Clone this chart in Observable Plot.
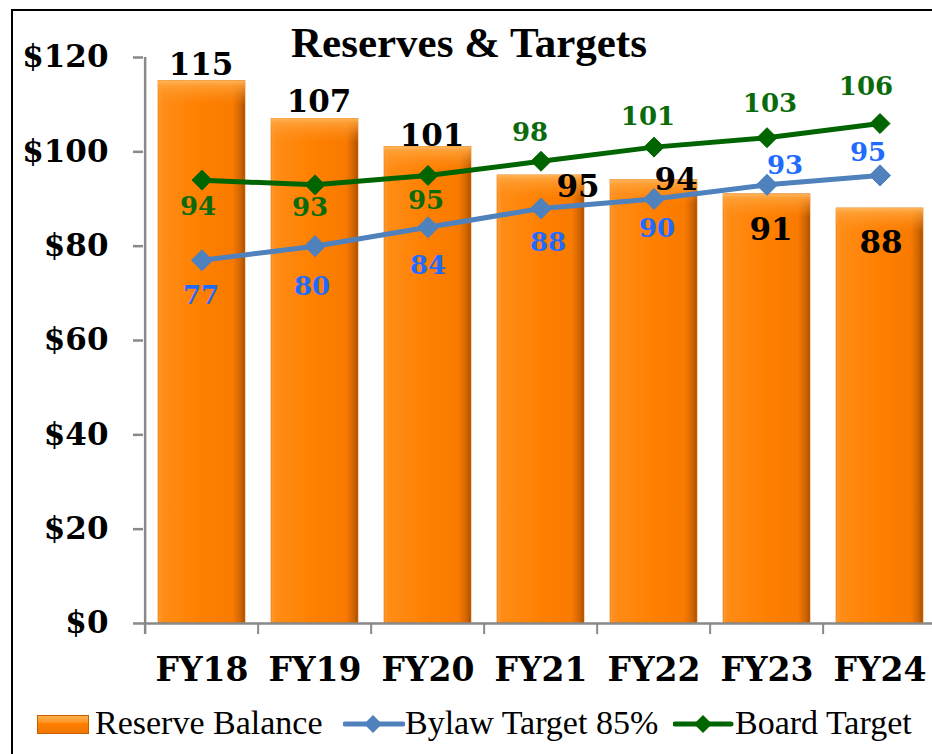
<!DOCTYPE html>
<html><head><meta charset="utf-8">
<script src="https://cdn.jsdelivr.net/npm/d3@7"></script>
<script src="https://cdn.jsdelivr.net/npm/@observablehq/plot@0.6"></script>
<style>
html,body{margin:0;padding:0;background:#fff;overflow:hidden;width:932px;height:754px;}
#wrap{position:relative;width:932px;height:754px;overflow:hidden;background:#fff;}
#border{position:absolute;left:11px;top:9px;width:2000px;height:2000px;border-left:2.5px solid #000;border-top:2.5px solid #000;}
#chart{position:absolute;left:0;top:0;width:939px;}
#title{position:absolute;left:0;width:938px;text-align:center;top:21px;font:bold 43px "Liberation Serif";line-height:43px;color:#000;}
.leg{position:absolute;top:704px;height:34px;line-height:34px;font:34px "Liberation Serif";color:#000;white-space:nowrap;}
.sw{position:absolute;}
#chart svg g[aria-label^="y-axis"] text{font:bold 31px "DejaVu Serif";fill:#000;}
#chart svg g[aria-label^="x-axis"] text{font:bold 33px "DejaVu Serif";fill:#000;}
#chart svg g[aria-label^="y-axis"] line,#chart svg g[aria-label^="y-axis"] path{stroke:#898989;stroke-width:2.5;}
</style>
</head><body>
<div id="wrap">
  <div id="border"></div>
  <div id="chart"></div>
  <div id="title">Reserves &amp; Targets</div>
  <div id="legend"></div>
</div>
<script>
const categories = ["FY18","FY19","FY20","FY21","FY22","FY23","FY24"];
const reserveBalance = [115,107,101,95,94,91,88];
const bylawTarget = [77,80,84,88,90,93,95];
const boardTarget = [94,93,95,98,101,103,106];
const yTicks = [0,20,40,60,80,100,120];
const yTickLabels = ["$0","$20","$40","$60","$80","$100","$120"];
const seriesNames = ["Reserve Balance","Bylaw Target 85%","Board Target"];

// label nudges in pixels [dx, dy], relative to each point
const reserveNudge = [[-1,-16],[4,-17],[4,-11],[37,12],[22,0],[4,36],[1,35]];
const boardNudge = [[-4,27],[-5,23],[-2,25],[-11,-29],[-6,-30],[3,-34],[-14,-37]];
const bylawNudge = [[-1,35],[-3,41],[0,38],[7,34],[3,30],[18,-19],[-12,-23]];

const W = 939, H = 700, ML = 143, MR = 0, MT = 57, MB = 77;
const step = (W - ML - MR) / categories.length;
const AXIS = "#898989";
const BLUE_LINE = "#4F81BD", BLUE_TEXT = "#1F6BFF";
const GREEN_LINE = "#006400", GREEN_TEXT = "#0B6B0B";

const rows = categories.map((c, i) => ({cat: c, reserve: reserveBalance[i], bylaw: bylawTarget[i], board: boardTarget[i]}));

function labels(key, nudges, fill, size) {
  return rows.map((r, i) => Plot.text([r], {
    x: "cat", y: key, text: d => String(d[key]),
    dx: nudges[i][0], dy: nudges[i][1],
    fill, fontSize: size, fontWeight: "bold", fontFamily: "DejaVu Serif",
    textAnchor: "middle"
  }));
}

const chart = Plot.plot({
  width: W, height: H,
  marginLeft: ML, marginRight: MR, marginTop: MT, marginBottom: MB,
  style: {background: "transparent", overflow: "visible", maxWidth: "none"},
  x: {domain: categories, paddingInner: 0.23, paddingOuter: 0.115, tickSize: 0, tickPadding: 34, label: null},
  y: {domain: [0, 120], ticks: yTicks, tickFormat: d => yTickLabels[yTicks.indexOf(d)], tickSize: 10, tickPadding: 25, label: null},
  marks: [
    Plot.barY(rows, {x: "cat", y: "reserve", fill: "url(#barGrad)", stroke: "#E07000", strokeWidth: 0.6}),
    Plot.barY(rows, {x: "cat", y1: "reserve", y2: "reserve", insetBottom: -24, fill: "url(#bevelGrad)"}),
    Plot.ruleY([0], {stroke: AXIS, strokeWidth: 2.5}),
    Plot.ruleX([categories[0]], {x: d => d, dx: -step / 2, y1: -2.35, y2: 120, stroke: AXIS, strokeWidth: 2.5}),
    Plot.ruleX(categories.slice(1), {x: d => d, dx: -step / 2, y1: 0, y2: -2.35, stroke: AXIS, strokeWidth: 2}),
    Plot.line(rows, {x: "cat", y: "board", stroke: GREEN_LINE, strokeWidth: 5}),
    Plot.dot(rows, {x: "cat", y: "board", symbol: "diamond2", r: 9, fill: GREEN_LINE, stroke: GREEN_LINE, strokeWidth: 1}),
    Plot.line(rows, {x: "cat", y: "bylaw", stroke: BLUE_LINE, strokeWidth: 5}),
    Plot.dot(rows, {x: "cat", y: "bylaw", symbol: "diamond2", r: 9.5, fill: BLUE_LINE, stroke: BLUE_LINE, strokeWidth: 1}),
    ...labels("reserve", reserveNudge, "#000", 31),
    ...labels("board", boardNudge, GREEN_TEXT, 26),
    ...labels("bylaw", bylawNudge, BLUE_TEXT, 26)
  ]
});

// gradients
const defs = d3.select(chart).insert("defs", ":first-child");
const g1 = defs.append("linearGradient").attr("id", "barGrad").attr("x1", 0).attr("x2", 1).attr("y1", 0).attr("y2", 0);
[[0, "#FF9A30"], [0.06, "#FF8C16"], [0.5, "#FF8000"], [0.86, "#F87A00"], [0.95, "#D06400"], [1, "#A85000"]]
  .forEach(([o, c]) => g1.append("stop").attr("offset", o).attr("stop-color", c));
const g2 = defs.append("linearGradient").attr("id", "bevelGrad").attr("x1", 0).attr("x2", 0).attr("y1", 0).attr("y2", 1);
[[0, "#FFB860", 0.95], [0.2, "#FFA43C", 0.8], [1, "#FF9020", 0]]
  .forEach(([o, c, a]) => g2.append("stop").attr("offset", o).attr("stop-color", c).attr("stop-opacity", a));
document.getElementById("chart").appendChild(chart);

// legend
const legend = document.getElementById("legend");
const items = [
  {name: seriesNames[0], textLeft: 95,
   svg: `<svg class="sw" style="left:37px;top:715px" width="52" height="19">
     <defs><linearGradient id="lg1" x1="0" x2="0" y1="0" y2="1"><stop offset="0" stop-color="#FFB050"/><stop offset="0.35" stop-color="#FF9A28"/><stop offset="0.45" stop-color="#FF8000"/><stop offset="1" stop-color="#F07400"/></linearGradient></defs>
     <rect x="0.5" y="0.5" width="51" height="18" fill="url(#lg1)" stroke="#C86000" stroke-width="1"/></svg>`},
  {name: seriesNames[1], textLeft: 405,
   svg: `<svg class="sw" style="left:343px;top:712px" width="62" height="24">
     <line x1="2" y1="12" x2="60" y2="12" stroke="${BLUE_LINE}" stroke-width="5" stroke-linecap="round"/>
     <path d="M30,3L39,12L30,21L21,12Z" fill="${BLUE_LINE}"/></svg>`},
  {name: seriesNames[2], textLeft: 735,
   svg: `<svg class="sw" style="left:673px;top:712px" width="62" height="24">
     <line x1="2" y1="12" x2="58" y2="12" stroke="${GREEN_LINE}" stroke-width="5" stroke-linecap="round"/>
     <path d="M30,3L39,12L30,21L21,12Z" fill="${GREEN_LINE}"/></svg>`}
];
items.forEach(it => {
  legend.insertAdjacentHTML("beforeend", it.svg);
  const t = document.createElement("div");
  t.className = "leg";
  t.style.left = it.textLeft + "px";
  t.textContent = it.name;
  legend.appendChild(t);
});
</script>
</body></html>
